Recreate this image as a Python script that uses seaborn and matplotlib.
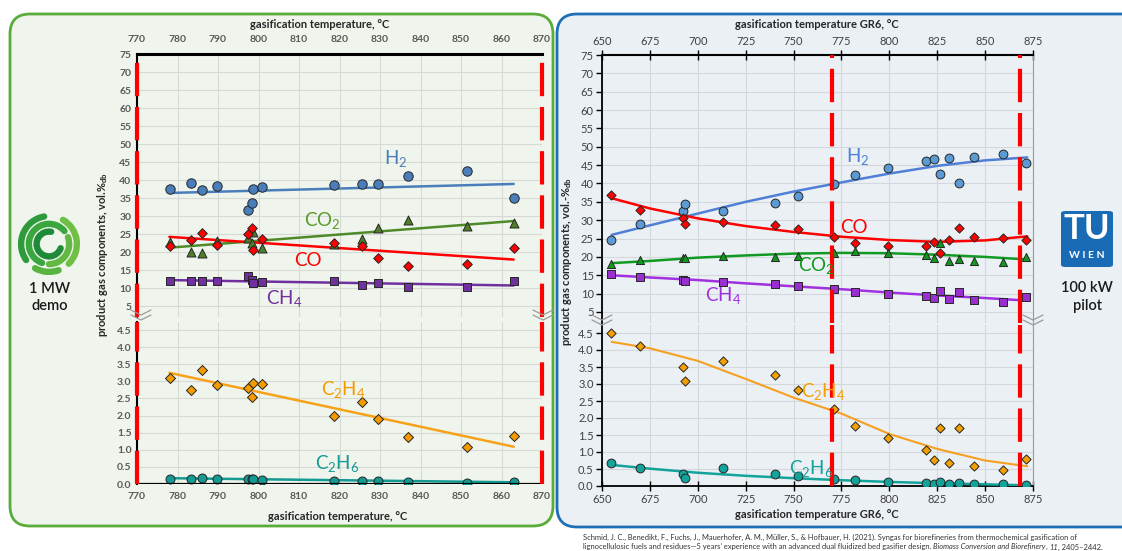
import numpy as np
import pandas as pd
import matplotlib
matplotlib.use("Agg")
import matplotlib.pyplot as plt
import seaborn as sns
from matplotlib.patches import FancyBboxPatch, Arc
from matplotlib.lines import Line2D

# ==============================
# data
# ==============================
# left panel: 1 MW demo plant
t_demo = [778.1, 783.3, 786.0, 789.7, 797.3, 798.4, 798.7, 800.9, 818.6, 825.6, 829.5, 836.9, 851.4, 863.2]
h2_demo = [37.6, 39.3, 37.3, 38.2, 31.6, 33.6, 37.5, 38.1, 38.6, 38.8, 39.0, 41.0, 42.6, 35.1]
co2_demo = [22.8, 20.0, 19.6, 23.0, 24.0, 22.5, 25.5, 21.0, 22.3, 23.5, 26.7, 28.8, 27.2, 28.1]
co_demo = [21.7, 23.3, 25.3, 21.9, 25.0, 26.7, 20.5, 23.6, 22.6, 21.6, 18.2, 16.1, 16.6, 21.0]
ch4_demo = [11.9, 11.9, 11.9, 11.9, 13.3, 12.3, 11.4, 11.8, 11.9, 10.7, 11.3, 10.2, 10.2, 12.0]
c2h4_demo = [3.10, 2.75, 3.34, 2.88, 2.82, 2.54, 2.94, 2.92, 2.00, 2.41, 1.91, 1.37, 1.08, 1.39]
c2h6_demo = [0.15, 0.16, 0.18, 0.15, 0.15, 0.16, 0.14, 0.13, 0.10, 0.09, 0.08, 0.06, 0.04, 0.06]

# trend lines of the demo plant (start / end)
fit_t_demo = [778, 863]
h2_fit_demo = [36.4, 38.9]
co2_fit_demo = [21.2, 28.6]
co_fit_demo = [24.2, 17.9]
ch4_fit_demo = [12.2, 10.7]
c2h4_fit_demo = [3.25, 1.09]
c2h6_fit_demo = [0.17, 0.05]

# right panel: 100 kW pilot plant
t_pilot = [654.9, 669.8, 692.1, 693.1, 713.0, 740.1, 752.1, 771.0, 782.0, 799.2,
           819.2, 823.4, 826.2, 831.2, 836.4, 844.4, 859.2, 871.6]
h2_pilot = [24.6, 28.9, 32.6, 34.5, 32.5, 34.8, 36.7, 39.9, 42.3, 44.1,
            46.0, 46.7, 42.5, 46.9, 40.1, 47.2, 48.1, 45.5]
co_pilot = [36.9, 32.7, 30.6, 29.0, 29.6, 28.8, 27.5, 25.4, 23.8, 23.0,
            23.1, 24.0, 21.2, 24.7, 27.9, 25.3, 25.1, 24.6]
co2_pilot = [18.1, 19.2, 19.6, 19.8, 20.3, 20.1, 20.3, 21.0, 21.6, 21.2,
             20.6, 19.6, 23.8, 18.9, 19.5, 18.8, 18.7, 20.0]
ch4_pilot = [15.4, 14.5, 13.6, 13.4, 13.3, 12.5, 12.2, 11.3, 10.5, 10.0,
             9.3, 8.8, 10.6, 8.6, 10.4, 8.2, 7.6, 9.0]
c2h4_pilot = [4.49, 4.13, 3.50, 3.08, 3.68, 3.26, 2.82, 2.26, 1.76, 1.42,
              1.05, 0.77, 1.72, 0.67, 1.72, 0.59, 0.47, 0.78]
c2h6_pilot = [0.69, 0.52, 0.35, 0.23, 0.52, 0.34, 0.29, 0.20, 0.17, 0.13,
              0.10, 0.07, 0.11, 0.07, 0.10, 0.05, 0.05, 0.03]

# trend curves of the pilot plant
fit_t_pilot = [655, 675, 700, 725, 750, 775, 800, 825, 850, 872]
h2_fit_pilot = [26.0, 28.6, 31.8, 35.0, 37.8, 40.3, 42.7, 44.8, 46.3, 47.1]
co_fit_pilot = [36.0, 33.2, 30.5, 28.4, 26.8, 25.5, 24.6, 24.1, 24.5, 25.6]
co2_fit_pilot = [18.3, 18.9, 19.8, 20.4, 20.9, 21.1, 21.0, 20.6, 20.0, 19.3]
ch4_fit_pilot = [15.0, 14.4, 13.7, 12.8, 12.0, 11.2, 10.3, 9.5, 8.8, 8.1]
c2h4_fit_pilot = [4.24, 4.05, 3.68, 3.15, 2.60, 2.13, 1.53, 1.09, 0.75, 0.58]
c2h6_fit_pilot = [0.62, 0.51, 0.39, 0.30, 0.23, 0.17, 0.12, 0.08, 0.05, 0.02]

# temperature window of the demo plant (red dashed)
window_demo = [770, 870]
window_pilot = [770, 868]

# ==============================
# style
# ==============================
sns.set_theme(style="white")
plt.rcParams['font.family'] = ['Lato', 'DejaVu Sans']
plt.rcParams['mathtext.fontset'] = 'custom'
plt.rcParams['mathtext.rm'] = 'Lato'
plt.rcParams['mathtext.it'] = 'Lato:italic'
plt.rcParams['mathtext.bf'] = 'Lato:bold'

W, H = 1122, 551
fig = plt.figure(figsize=(W / 100, H / 100), dpi=100)
fig.patch.set_facecolor('white')


def px_axes(x0, y0, x1, y1):
    return fig.add_axes([x0 / W, 1 - y1 / H, (x1 - x0) / W, (y1 - y0) / H])


def ftext(x, y, s, **kw):
    return fig.text(x / W, 1 - y / H, s, **kw)


def fline(xs, ys, **kw):
    fig.add_artist(Line2D([x / W for x in xs], [1 - y / H for y in ys],
                          transform=fig.transFigure, **kw))


# panel frames
fig.add_artist(FancyBboxPatch((0.10, 0.25), 5.43, 5.12, boxstyle="round,pad=0,rounding_size=0.2",
                              transform=fig.dpi_scale_trans, facecolor='#eff4ed',
                              edgecolor='#5aac3a', lw=2, zorder=-5))
fig.add_artist(FancyBboxPatch((5.57, 0.24), 5.9, 5.13, boxstyle="round,pad=0,rounding_size=0.2",
                              transform=fig.dpi_scale_trans, facecolor='#ebf0f5',
                              edgecolor='#1f6fb6', lw=2, zorder=-5))

EDGE = '#262626'


def draw_points(ax, t, v, color, marker, s):
    sns.scatterplot(x=t, y=v, ax=ax, marker=marker, s=s, color=color,
                    edgecolor=EDGE, linewidth=0.7, zorder=4, legend=False)


def draw_fit(ax, t, v, color, lw=1.8):
    sns.lineplot(x=t, y=v, ax=ax, color=color, lw=lw, zorder=3, estimator=None,
                 sort=False, legend=False)


# ==============================
# left panel: 1 MW demo
# ==============================
axL_up = px_axes(137, 54, 542, 316.8)
axL_lo = px_axes(137, 321.5, 542, 484)

c_h2, c_co2, c_co, c_ch4 = '#4a7ebb', '#4f7d28', '#ff0000', '#7030a0'
c_c2h4, c_c2h6 = '#f59b00', '#139a92'

draw_fit(axL_up, fit_t_demo, h2_fit_demo, c_h2)
draw_fit(axL_up, fit_t_demo, co2_fit_demo, '#4f8a2a')
draw_fit(axL_up, fit_t_demo, co_fit_demo, c_co)
draw_fit(axL_up, fit_t_demo, ch4_fit_demo, c_ch4)
draw_points(axL_up, t_demo, h2_demo, c_h2, 'o', 46)
draw_points(axL_up, t_demo, co2_demo, c_co2, '^', 42)
draw_points(axL_up, t_demo, co_demo, c_co, 'D', 24)
draw_points(axL_up, t_demo, ch4_demo, c_ch4, 's', 40)

draw_fit(axL_lo, fit_t_demo, c2h4_fit_demo, '#f7a21b')
draw_fit(axL_lo, fit_t_demo, c2h6_fit_demo, c_c2h6)
draw_points(axL_lo, t_demo, c2h4_demo, c_c2h4, 'D', 26)
draw_points(axL_lo, t_demo, c2h6_demo, c_c2h6, 'o', 42)

xt_demo = list(range(770, 871, 10))
for ax in (axL_up, axL_lo):
    ax.set_facecolor('#eff4ed')
    ax.set_xlim(770, 870)
    ax.set_xticks(xt_demo)
    ax.grid(True, color='#d6d9d4', lw=0.8)
    ax.set_xlabel('')
    ax.set_ylabel('')
    for sp in ax.spines.values():
        sp.set_visible(False)
    ax.spines['left'].set_visible(True)
    ax.spines['left'].set_color('black')
    ax.spines['left'].set_linewidth(1.5)
    for xv in window_demo:
        ax.axvline(xv, color='#ff0000', lw=3, ls=(0, (8, 2.6)), zorder=6, clip_on=False)
    ax.tick_params(length=0, labelsize=7.5, labelcolor='#595959', pad=4)

axL_up.set_ylim(2, 75)
axL_up.set_yticks(list(range(5, 76, 5)))
axL_up.spines['top'].set_visible(True)
axL_up.spines['top'].set_color('black')
axL_up.spines['top'].set_linewidth(2.2)
axL_up.tick_params(axis='x', top=True, labeltop=True, bottom=False, labelbottom=False, pad=7)
axL_lo.set_ylim(0, 4.75)
yt_lo = [0.0, 0.5, 1.0, 1.5, 2.0, 2.5, 3.0, 3.5, 4.0, 4.5]
axL_lo.set_yticks(yt_lo)
axL_lo.set_yticklabels([f'{v:.1f}' for v in yt_lo])
axL_lo.axhline(0, color='black', lw=1.6, zorder=5)
axL_lo.tick_params(axis='x', pad=6)
for ax in (axL_up, axL_lo):
    for lab in ax.get_xticklabels() + ax.get_yticklabels():
        lab.set_fontweight('bold')

ftext(320, 25, 'gasification temperature, °C', ha='center', va='center', fontsize=8,
      fontweight='bold', color='#262626')
ftext(338, 516, 'gasification temperature, °C', ha='center', va='center', fontsize=8,
      fontweight='bold', color='#262626')
ftext(103, 255, 'product gas components, vol.%$_{\\mathregular{db}}$', ha='center', va='center',
      rotation=90, fontsize=8, fontweight='bold', color='#262626')

lab_kw = dict(fontsize=13.5, ha='center', va='center', zorder=7)
axL_up.text(833.8, 46.0, 'H$_2$', color=c_h2, **lab_kw)
axL_up.text(815.8, 28.8, 'CO$_2$', color='#5a9a2a', **lab_kw)
axL_up.text(812.1, 17.5, 'CO', color=c_co, **lab_kw)
axL_up.text(806.4, 7.0, 'CH$_4$', color=c_ch4, **lab_kw)
axL_lo.text(820.8, 2.75, 'C$_2$H$_4$', color=c_c2h4, **lab_kw)
axL_lo.text(819.5, 0.59, 'C$_2$H$_6$', color=c_c2h6, **lab_kw)

# ==============================
# right panel: 100 kW pilot
# ==============================
axR_up = px_axes(602, 55, 1033, 323)
axR_lo = px_axes(602, 324.5, 1033, 486)

r_h2, r_co, r_co2, r_ch4 = '#5b9bd5', '#ff0000', '#0f9a1e', '#9a2fd0'
r_c2h4, r_c2h6 = '#f5a000', '#13a39a'

draw_fit(axR_up, fit_t_pilot, h2_fit_pilot, '#4f7fd6')
draw_fit(axR_up, fit_t_pilot, co_fit_pilot, r_co)
draw_fit(axR_up, fit_t_pilot, co2_fit_pilot, '#119a22')
draw_fit(axR_up, fit_t_pilot, ch4_fit_pilot, '#a030e0')
draw_points(axR_up, t_pilot, h2_pilot, r_h2, 'o', 40)
draw_points(axR_up, t_pilot, co_pilot, r_co, 'D', 22)
draw_points(axR_up, t_pilot, co2_pilot, r_co2, '^', 34)
draw_points(axR_up, t_pilot, ch4_pilot, r_ch4, 's', 34)

draw_fit(axR_lo, fit_t_pilot, c2h4_fit_pilot, '#f7a020', lw=1.5)
draw_fit(axR_lo, fit_t_pilot, c2h6_fit_pilot, r_c2h6)
draw_points(axR_lo, t_pilot, c2h4_pilot, r_c2h4, 'D', 22)
draw_points(axR_lo, t_pilot, c2h6_pilot, r_c2h6, 'o', 40)

xt_pilot = list(range(650, 876, 25))
for ax in (axR_up, axR_lo):
    ax.set_facecolor('#ebf0f5')
    ax.set_xlim(650, 875)
    ax.set_xticks(xt_pilot)
    ax.grid(True, color='#d4d8dc', lw=0.8)
    ax.set_xlabel('')
    ax.set_ylabel('')
    for sp in ax.spines.values():
        sp.set_visible(False)
    ax.spines['left'].set_visible(True)
    ax.spines['left'].set_color('black')
    ax.spines['left'].set_linewidth(1.3)
    ax.spines['right'].set_visible(True)
    ax.spines['right'].set_color('#9a9a9a')
    ax.spines['right'].set_linewidth(0.8)
    for xv in window_pilot:
        ax.axvline(xv, color='#ff0000', lw=3, ls=(0, (8, 2.6)), zorder=6, clip_on=False)
    ax.tick_params(axis='y', left=True, direction='out', length=4, width=1, color='black',
                   labelsize=8, labelcolor='#404040', pad=2)

axR_up.set_ylim(2, 75)
axR_up.set_yticks(list(range(5, 76, 5)))
axR_up.spines['top'].set_visible(True)
axR_up.spines['top'].set_color('black')
axR_up.spines['top'].set_linewidth(1.5)
axR_up.tick_params(axis='x', top=True, labeltop=True, bottom=False, labelbottom=False,
                   direction='inout', length=7, width=1, color='black',
                   labelsize=8, labelcolor='#404040', pad=2)
axR_lo.set_ylim(0, 4.75)
axR_lo.set_yticks(yt_lo)
axR_lo.set_yticklabels([f'{v:.1f}' for v in yt_lo])
axR_lo.spines['bottom'].set_visible(True)
axR_lo.spines['bottom'].set_color('black')
axR_lo.spines['bottom'].set_linewidth(1.3)
axR_lo.tick_params(axis='x', bottom=True, direction='inout', length=7, width=1, color='black',
                   labelsize=8, labelcolor='#404040', pad=2)

ftext(817, 25, 'gasification temperature GR6, °C', ha='center', va='center', fontsize=8,
      fontweight='bold', color='#262626')
ftext(817, 515, 'gasification temperature GR6, °C', ha='center', va='center', fontsize=8,
      fontweight='bold', color='#262626')
ftext(566, 262, 'product gas components, vol.-%$_{\\mathregular{db}}$', ha='center', va='center',
      rotation=90, fontsize=8, fontweight='bold', color='#262626')

axR_up.text(783.6, 47.3, 'H$_2$', color='#4f7fd6', **lab_kw)
axR_up.text(781.5, 27.9, 'CO', color=r_co, **lab_kw)
axR_up.text(761.8, 17.6, 'CO$_2$', color='#0f9a1e', **lab_kw)
axR_up.text(713.1, 9.5, 'CH$_4$', color='#a030e0', **lab_kw)
axR_lo.text(765.4, 2.78, 'C$_2$H$_4$', color=r_c2h4, **lab_kw)
axR_lo.text(759.3, 0.51, 'C$_2$H$_6$', color=r_c2h6, **lab_kw)


# axis break marks
def break_mark(x, y):
    for dy in (0, 5):
        fline([x - 10, x, x + 10], [y - 4 + dy, y + 1 + dy, y - 4 + dy],
              color='#9a9a9a', lw=0.9, zorder=8)


break_mark(141, 314)
break_mark(543, 314)
break_mark(602, 319)
break_mark(1033, 319)

# ==============================
# logos and captions
# ==============================
axLogo = px_axes(18, 213, 80, 275)
axLogo.set_xlim(-1, 1)
axLogo.set_ylim(-1, 1)
axLogo.set_aspect('equal')
axLogo.axis('off')
arcs = [
    (1.80, 100, 215, '#2f9a3c'), (1.80, 240, 290, '#58b341'), (1.80, 315, 60, '#6fbf44'),
    (1.30, 40, 250, '#3aa63e'), (1.30, 270, 20, '#62b843'),
    (0.80, 80, 340, '#1f8a38'),
]
for d, a1, a2, col in arcs:
    axLogo.add_patch(Arc((0, 0), d, d, theta1=a1, theta2=a2, color=col, lw=4.6, capstyle='round'))

ftext(50, 289, '1 MW', ha='center', va='center', fontsize=10.5, fontweight='semibold', color='#1a1a1a')
ftext(50, 306, 'demo', ha='center', va='center', fontsize=10.5, fontweight='semibold', color='#1a1a1a')

fig.add_artist(FancyBboxPatch((1061 / W, 1 - 267 / H), 52 / W, 56 / H,
                              boxstyle="round,pad=0,rounding_size=0.004",
                              transform=fig.transFigure, facecolor='#1a6bb5',
                              edgecolor='none', zorder=2))
ftext(1087, 229, 'TU', ha='center', va='center', fontsize=25, fontweight='bold', color='white', zorder=3)
ftext(1087, 256, 'W I E N', ha='center', va='center', fontsize=7.5, fontweight='bold',
      color='white', zorder=3)
ftext(1087, 288, '100 kW', ha='center', va='center', fontsize=10.5, fontweight='semibold', color='#1a1a1a')
ftext(1087, 306, 'pilot', ha='center', va='center', fontsize=10.5, fontweight='semibold', color='#1a1a1a')

# citation, with the journal part in italics
cite_kw = dict(ha='left', va='center', fontsize=5.45, color='#333333')
ftext(583, 537, 'Schmid, J. C., Benedikt, F., Fuchs, J., Mauerhofer, A. M., Müller, S., & Hofbauer, H. (2021). '
      'Syngas for biorefineries from thermochemical gasification of', **cite_kw)
renderer = fig.canvas.get_renderer()
x_cur = 583
for piece, style in [('lignocellulosic fuels and residues—5 years\u2019 experience with an advanced dual '
                      'fluidized bed gasifier design. ', 'normal'),
                     ('Biomass Conversion and Biorefinery', 'italic'),
                     (', ', 'normal'), ('11', 'italic'), (', 2405–2442.', 'normal')]:
    t = ftext(x_cur, 547, piece, fontstyle=style, **cite_kw)
    x_cur += t.get_window_extent(renderer).width

fig.savefig('out.png', dpi=100, facecolor='white')
